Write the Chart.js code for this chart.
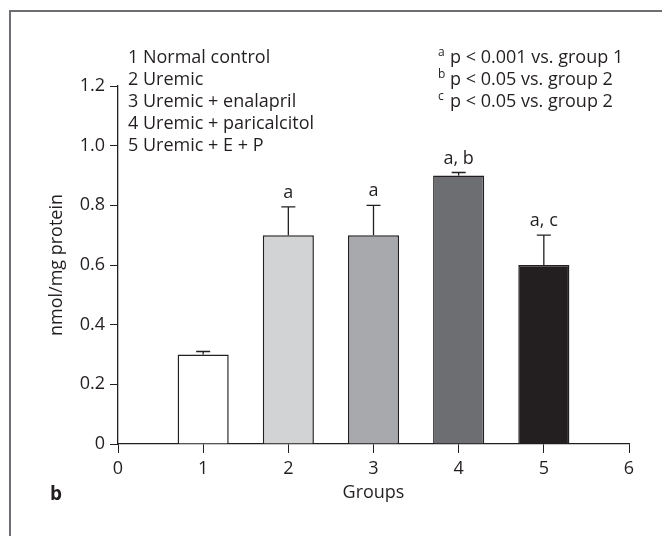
<!DOCTYPE html>
<html>
<head>
<meta charset="utf-8">
<script src="https://cdn.jsdelivr.net/npm/chart.js@4/dist/chart.umd.min.js"></script>
<style>
  body { margin: 0; background: #fff; }
  #wrap { position: relative; width: 662px; height: 536px; overflow: hidden; font-family: "Open Sans", sans-serif; font-weight: 500; color: #231f20; }
  .rule { position: absolute; background: #6d6e71; }
  #chart { position: absolute; left: 0; top: 0; }
  .legend { position: absolute; font-size: 18px; line-height: 22px; white-space: nowrap; }
  #groupLegend { left: 128px; top: 45px; }
  #sigLegend { left: 438px; top: 45px; }
  .mark { display: inline-block; width: 12px; font-size: 12px; line-height: 0; position: relative; top: -7px; }
  #panel { position: absolute; left: 50px; top: 482px; font-size: 19px; font-weight: bold; line-height: 22px; }
</style>
</head>
<body>
<div id="wrap">
  <div class="rule" style="left:9px; top:10px; width:653px; height:2px"></div>
  <div class="rule" style="left:9px; top:10px; width:2px; height:526px"></div>
  <canvas id="chart" width="662" height="536"></canvas>
  <div class="legend" id="groupLegend"></div>
  <div class="legend" id="sigLegend"></div>
  <div id="panel">b</div>
</div>
<script>
// data
const groups = [1, 2, 3, 4, 5];
const groupNames = ['Normal control', 'Uremic', 'Uremic + enalapril', 'Uremic + paricalcitol', 'Uremic + E + P'];
const means = [0.30, 0.70, 0.70, 0.90, 0.60];
const errors = [0.01, 0.095, 0.10, 0.01, 0.10];
const sigLabels = ['', 'a', 'a', 'a, b', 'a, c'];
const sigMarks = ['a', 'b', 'c'];
const sigTexts = ['p < 0.001 vs. group 1', 'p < 0.05 vs. group 2', 'p < 0.05 vs. group 2'];
const xTicks = [0, 1, 2, 3, 4, 5, 6];
const yTicks = [0, 0.2, 0.4, 0.6, 0.8, 1.0, 1.2];

const barColors = ['#ffffff', '#d1d3d4', '#a7a9ac', '#6d6e71', '#231f20'];
const ink = '#231f20';
const fontFamily = '"Open Sans", sans-serif';
const font = { family: fontFamily, size: 18, weight: 500 };

// legends as html text
document.getElementById('groupLegend').innerHTML =
    groupNames.map((name, i) => `<div>${groups[i]} ${name}</div>`).join('');
document.getElementById('sigLegend').innerHTML =
    sigMarks.map((m, i) => `<div><span class="mark">${m}</span>${sigTexts[i]}</div>`).join('');

// upper error whiskers + significance letters
const errorBars = {
    id: 'errorBars',
    afterDatasetsDraw(chart) {
        const { ctx, scales: { x, y } } = chart;
        ctx.save();
        ctx.strokeStyle = ink;
        ctx.lineWidth = 1.3;
        ctx.fillStyle = ink;
        ctx.font = `500 18px ${fontFamily}`;
        ctx.textAlign = 'center';
        ctx.textBaseline = 'alphabetic';
        groups.forEach((g, i) => {
            const px = x.getPixelForValue(g);
            const yBar = y.getPixelForValue(means[i]);
            const yTop = y.getPixelForValue(means[i] + errors[i]);
            ctx.beginPath();
            ctx.moveTo(px, yBar);
            ctx.lineTo(px, yTop);
            ctx.moveTo(px - 7, yTop);
            ctx.lineTo(px + 7, yTop);
            ctx.stroke();
            if (sigLabels[i]) ctx.fillText(sigLabels[i], px, yTop - 9);
        });
        ctx.restore();
    }
};

new Chart(document.getElementById('chart'), {
    type: 'bar',
    data: {
        datasets: [{
            data: groups.map((g, i) => ({ x: g, y: means[i] })),
            backgroundColor: barColors,
            borderColor: ink,
            borderWidth: 1.5,
            barPercentage: 0.6,
            categoryPercentage: 1
        }]
    },
    options: {
        responsive: false,
        animation: false,
        layout: { padding: { top: 86, right: 33, left: 0, bottom: 0 } },
        plugins: { legend: { display: false }, tooltip: { enabled: false } },
        scales: {
            x: {
                type: 'linear',
                min: 0,
                max: 6,
                offset: false,
                afterBuildTicks: s => { s.ticks = xTicks.map(v => ({ value: v })); },
                afterFit: s => { s.height = 92; },
                grid: { offset: false, drawOnChartArea: false, tickLength: 9, color: ink },
                border: { color: ink, width: 1.3 },
                ticks: { padding: 5, color: ink, font },
                title: { display: true, text: 'Groups', color: ink, font, padding: { top: 0, bottom: 32 } }
            },
            y: {
                min: 0,
                max: 1.2,
                afterBuildTicks: s => { s.ticks = yTicks.map(v => ({ value: v })); },
                afterFit: s => { s.width = 118; },
                grid: { drawOnChartArea: false, tickLength: 8, color: ink },
                border: { color: ink, width: 1.3 },
                ticks: {
                    padding: 5,
                    color: ink,
                    font,
                    callback: v => v === 0 ? '0' : v.toFixed(1)
                },
                title: { display: true, text: 'nmol/mg protein', color: ink, font, padding: { top: 46, bottom: 0 } }
            }
        }
    },
    plugins: [errorBars]
});
</script>
</body>
</html>
